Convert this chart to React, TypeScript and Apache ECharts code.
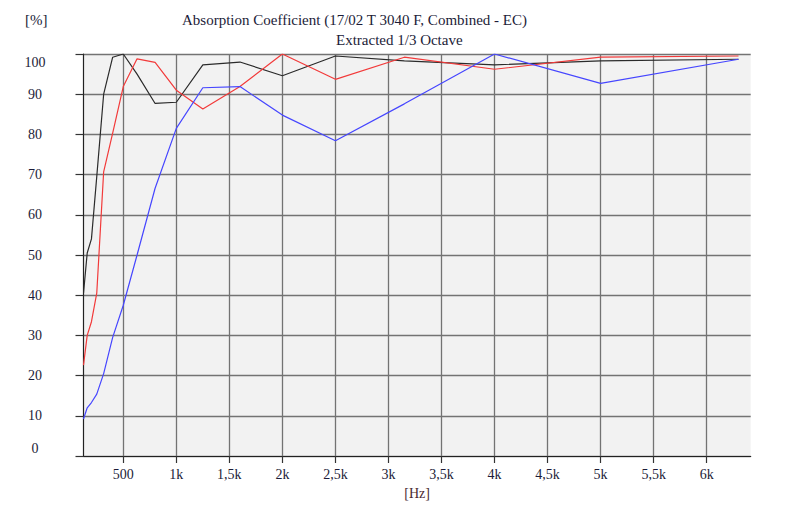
import React, { useEffect, useRef } from "react";
import * as echarts from "echarts";

const frequencies = [125, 160, 200, 250, 315, 400, 500, 630, 800, 1000, 1250, 1600, 2000, 2500, 3150, 4000, 5000, 6300];
const blackValues = [40.5, 50.5, 54, 69.5, 90, 99.2, 100, 95, 87.7, 88, 97.3, 98, 94.6, 99.5, 98.3, 97.3, 98.3, 98.7];
const redValues = [22.6, 30, 33.4, 40.5, 70.7, 80.3, 91.9, 98.8, 97.9, 91, 86.3, 91.9, 100, 93.7, 99.2, 96.2, 99.2, 99.5];
const blueValues = [9.2, 12, 13.3, 15.4, 20.5, 29.5, 37.5, 50, 66.6, 81.5, 91.6, 91.9, 84.8, 78.4, 87.6, 100, 92.7, 98.7];
const xTickValues = [500, 1000, 1500, 2000, 2500, 3000, 3500, 4000, 4500, 5000, 5500, 6000];
const xTickLabels = ["500", "1k", "1,5k", "2k", "2,5k", "3k", "3,5k", "4k", "4,5k", "5k", "5,5k", "6k"];

const FONT = "Liberation Serif";
const TEXT = "#1c1c38";

export default function App() {
  const ref = useRef<HTMLDivElement>(null);
  useEffect(() => {
    document.body.style.margin = "0";
    const chart = echarts.init(ref.current!, null, { renderer: "svg" });
    const mk = (vals: number[]) => frequencies.map((f, i) => [f, vals[i]]);
    const titleStyle = { fontFamily: FONT, fontWeight: "normal", fontSize: 15, color: TEXT };
    chart.setOption({
      animation: false,
      backgroundColor: "#ffffff",
      title: [
        { text: "[%]", left: 25, top: 12, padding: 0, textStyle: titleStyle },
        { text: "Absorption Coefficient (17/02 T 3040 F, Combined - EC)", left: 182, top: 12, padding: 0, textStyle: titleStyle },
        { text: "Extracted 1/3 Octave", left: 336, top: 32, padding: 0, textStyle: titleStyle },
      ],
      grid: { left: 83.5, right: 49.3, top: 54, bottom: 53, show: true, backgroundColor: "#f2f2f2", borderWidth: 0 },
      xAxis: {
        type: "value",
        min: 125,
        max: 6415,
        name: "[Hz]",
        nameLocation: "middle",
        nameGap: 30,
        nameTextStyle: { fontFamily: FONT, fontSize: 14, color: "#4a2a30" },
        axisLine: { show: true, lineStyle: { color: "#222", width: 1.2 } },
        axisTick: { show: true, length: 7, customValues: xTickValues, lineStyle: { color: "#333", width: 1.2 } },
        axisLabel: {
          customValues: xTickValues,
          margin: 11,
          fontFamily: FONT,
          fontSize: 14,
          color: TEXT,
          formatter: (v: number) => {
            const i = xTickValues.indexOf(v);
            return i >= 0 ? xTickLabels[i] : "";
          },
        },
        splitLine: { show: true, lineStyle: { color: "#737373", width: 1.3 } },
      },
      yAxis: {
        type: "value",
        min: 0,
        max: 100,
        interval: 10,
        axisLine: { show: true, lineStyle: { color: "#222", width: 1.2 } },
        axisTick: { show: true, length: 8, lineStyle: { color: "#333", width: 1.2 } },
        axisLabel: {
          margin: 48.5,
          align: "center",
          fontFamily: FONT,
          fontSize: 14,
          color: TEXT,
          formatter: (v: number) => (v === 100 ? "{t|100}" : v === 0 ? "{b|0}" : String(v)),
          rich: {
            t: { padding: [16, 0, 0, 0], fontFamily: FONT, fontSize: 14, color: TEXT },
            b: { padding: [0, 0, 16, 0], fontFamily: FONT, fontSize: 14, color: TEXT },
          },
        },
        splitLine: { show: true, lineStyle: { color: "#737373", width: 1.3 } },
      },
      series: [
        { type: "line", data: mk(blackValues), showSymbol: false, lineStyle: { color: "#2b2b2b", width: 1.2 }, itemStyle: { color: "#2b2b2b" }, z: 3 },
        { type: "line", data: mk(redValues), showSymbol: false, lineStyle: { color: "#f23a3a", width: 1.2 }, itemStyle: { color: "#f23a3a" }, z: 4 },
        { type: "line", data: mk(blueValues), showSymbol: false, lineStyle: { color: "#4646ff", width: 1.2 }, itemStyle: { color: "#4646ff" }, z: 5 },
      ],
    });
    return () => chart.dispose();
  }, []);
  return <div ref={ref} style={{ width: 800, height: 509 }} />;
}
